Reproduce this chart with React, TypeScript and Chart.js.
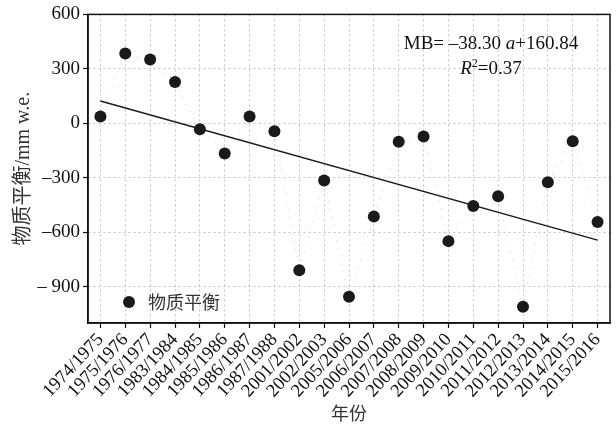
import React, { useEffect, useRef } from "react";
import { Chart, registerables } from "chart.js";

Chart.register(...registerables);

const years: string[] = [
  "1974/1975", "1975/1976", "1976/1977", "1983/1984", "1984/1985", "1985/1986",
  "1986/1987", "1987/1988", "2001/2002", "2002/2003", "2005/2006", "2006/2007",
  "2007/2008", "2008/2009", "2009/2010", "2010/2011", "2011/2012", "2012/2013",
  "2013/2014", "2014/2015", "2015/2016",
];
const massBalance: number[] = [
  37, 385, 352, 227, -33, -166, 38, -44, -810, -315, -955, -513,
  -101, -72, -649, -456, -402, -1010, -324, -99, -544,
];
const trendStart = 122.5;
const trendEnd = -643.5;
const yTickValues: number[] = [600, 300, 0, -300, -600, -900];
const yTickLabels: string[] = ["600", "300", "0", "–300", "–600", "– 900"];

const SERIF = '"Liberation Serif", "Times New Roman", serif';
const MIXED = '"Liberation Serif", "Noto Sans CJK SC", serif';
const CJK = '"Noto Sans CJK SC", sans-serif';

const frameAndTextPlugin = {
  id: "frameAndText",
  afterDraw(chart: any) {
    const { ctx, chartArea } = chart;
    const { left, right, top, bottom } = chartArea;
    ctx.save();
    ctx.strokeStyle = "#111";
    ctx.lineWidth = 1.5;
    ctx.setLineDash([]);
    ctx.strokeRect(left, top, right - left, bottom - top);

    ctx.fillStyle = "#111";
    ctx.textBaseline = "alphabetic";
    ctx.textAlign = "left";
    const parts1 = [
      { t: "MB= –38.30 ", f: `19px ${SERIF}` },
      { t: "a", f: `italic 19px ${SERIF}` },
      { t: "+160.84", f: `19px ${SERIF}` },
    ];
    const cx = 491;
    let w = 0;
    parts1.forEach((p) => { ctx.font = p.f; w += ctx.measureText(p.t).width; });
    let x = cx - w / 2;
    parts1.forEach((p) => {
      ctx.font = p.f;
      ctx.fillText(p.t, x, 49);
      x += ctx.measureText(p.t).width;
    });
    const parts2 = [
      { t: "R", f: `italic 19px ${SERIF}`, dy: 0 },
      { t: "2", f: `12px ${SERIF}`, dy: -7 },
      { t: "=0.37", f: `19px ${SERIF}`, dy: 0 },
    ];
    w = 0;
    parts2.forEach((p) => { ctx.font = p.f; w += ctx.measureText(p.t).width; });
    x = cx - w / 2;
    parts2.forEach((p) => {
      ctx.font = p.f;
      ctx.fillText(p.t, x, 74 + p.dy);
      x += ctx.measureText(p.t).width;
    });

    ctx.beginPath();
    ctx.arc(left + 41, bottom - 21, 6, 0, Math.PI * 2);
    ctx.fillStyle = "#1a1a1a";
    ctx.fill();
    ctx.font = `18px ${CJK}`;
    ctx.textBaseline = "middle";
    ctx.fillStyle = "#333";
    ctx.fillText("物质平衡", left + 60, bottom - 21);
    ctx.restore();
  },
};

export default function App() {
  const ref = useRef<HTMLCanvasElement | null>(null);
  useEffect(() => {
    document.body.style.margin = "0";
    const canvas = ref.current!;
    const n = years.length;
    const trendData = years.map((_, i) => (i === 0 ? trendStart : i === n - 1 ? trendEnd : null));
    const chart = new Chart(canvas, {
      type: "line",
      data: {
        labels: years,
        datasets: [
          {
            label: "物质平衡",
            data: massBalance,
            borderColor: "rgba(120,120,120,0.35)",
            borderWidth: 1,
            borderDash: [1, 7],
            pointRadius: 6,
            pointBackgroundColor: "#1a1a1a",
            pointBorderWidth: 0,
            showLine: true,
          },
          {
            label: "trend",
            data: trendData as any,
            spanGaps: true,
            borderColor: "#1a1a1a",
            borderWidth: 1.5,
            pointRadius: 0,
          },
        ],
      },
      options: {
        animation: false,
        responsive: false,
        maintainAspectRatio: false,
        layout: { padding: { top: 14, right: 3, left: 0, bottom: 0 } },
        plugins: { legend: { display: false }, tooltip: { enabled: false } },
        scales: {
          x: {
            type: "category",
            offset: true,
            grid: {
              color: "#c4c4c4",
              lineWidth: 1,
              tickColor: "#111",
              tickLength: 5,
              tickBorderDash: [],
              tickWidth: 1.2,
              drawTicks: true,
            } as any,
            border: { display: true, color: "#111", width: 1.5, dash: [2, 3] } as any,
            ticks: {
              autoSkip: false,
              maxRotation: 47,
              minRotation: 47,
              padding: 1,
              color: "#111",
              font: { family: SERIF, size: 18.5 },
            },
            title: {
              display: true,
              text: "年份",
              color: "#333",
              font: { family: CJK, size: 18 },
              padding: { top: 0, bottom: 2 },
            },
            afterFit: (s: any) => { s.height = 103; },
          },
          y: {
            type: "linear",
            min: -1100,
            max: 600,
            grid: {
              color: "#c4c4c4",
              lineWidth: 1,
              tickColor: "#111",
              tickLength: 5,
              tickWidth: 1.2,
              tickBorderDash: [],
            } as any,
            border: { display: true, color: "#111", width: 1.5, dash: [2, 3] } as any,
            afterBuildTicks: (s: any) => { s.ticks = yTickValues.map((v) => ({ value: v })); },
            ticks: {
              padding: 3,
              color: "#111",
              font: { family: SERIF, size: 19 },
              callback: (v: any) => {
                const i = yTickValues.indexOf(Number(v));
                return i >= 0 ? yTickLabels[i] : "";
              },
            },
            title: {
              display: true,
              text: "物质平衡/mm w.e.",
              color: "#333",
              font: { family: MIXED, size: 20 },
              padding: { top: 12, bottom: 0 },
            },
            afterFit: (s: any) => { s.width = 88; },
          },
        },
      },
      plugins: [frameAndTextPlugin],
    });
    return () => chart.destroy();
  }, []);
  return <canvas ref={ref} width={616} height={426} style={{ display: "block" }} />;
}
